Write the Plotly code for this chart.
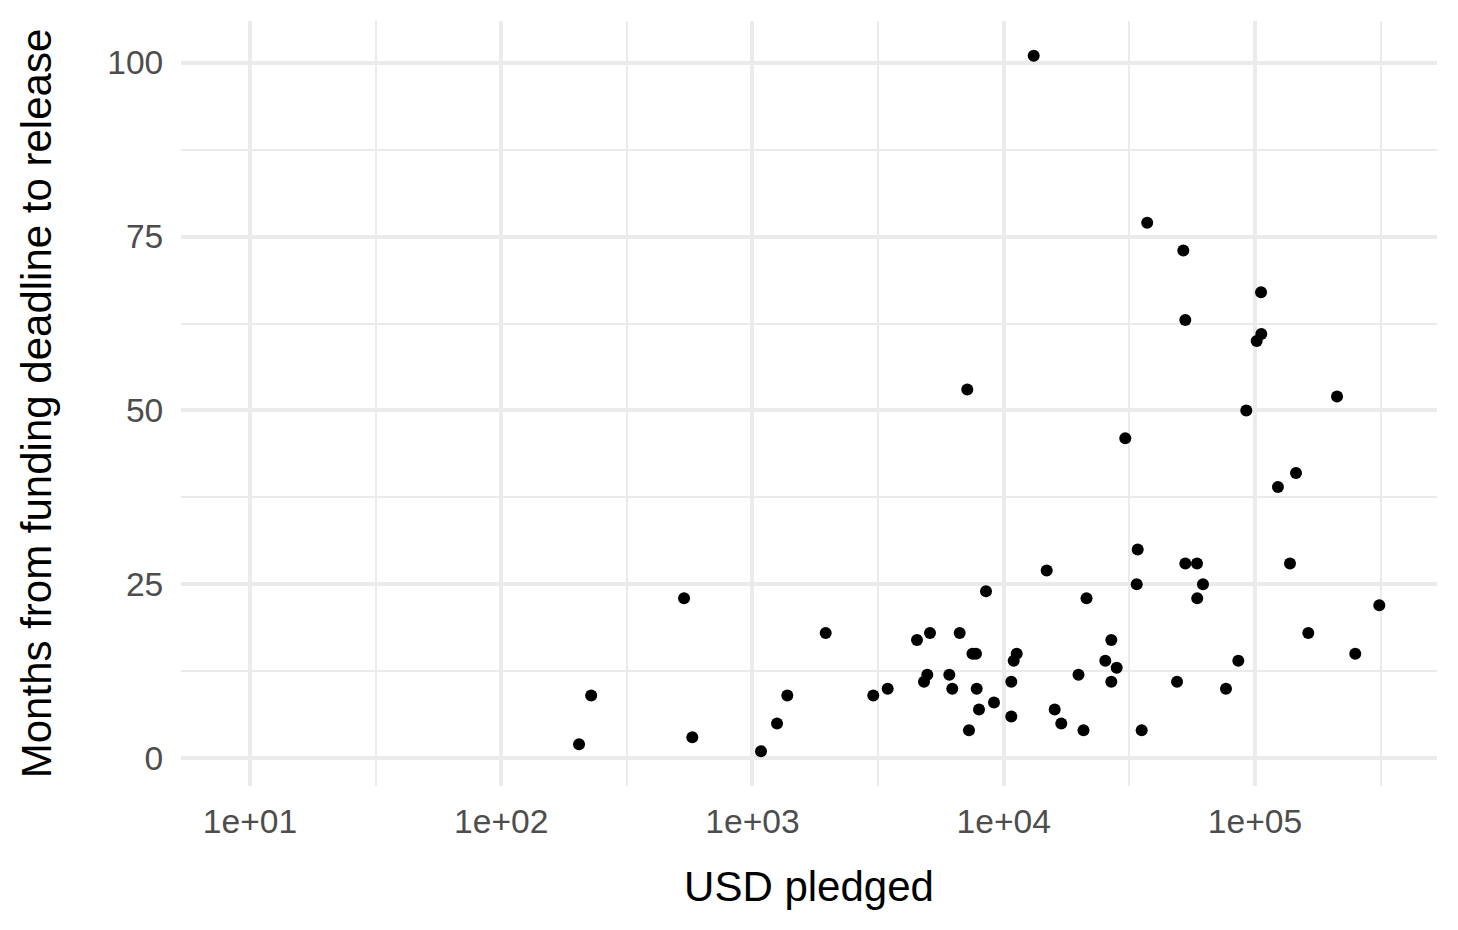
import plotly.graph_objects as go

usd_pledged = [204, 228, 534, 576, 1081, 1252, 1376, 1956, 3025, 3452,
               4515, 4815, 4963, 5087, 6072, 6240, 6678, 7159, 7272, 7509,
               7754, 7804, 7971, 8500, 9146, 10717, 10717, 10955, 11260, 13159,
               14826, 15952, 16943, 19838, 20768, 21351, 25364, 26799, 26799, 28154,
               30461, 33826, 34133, 35400, 37232, 48946, 51842, 52803, 52803, 58771,
               58900, 62086, 76657, 85824, 92344, 101577, 105946, 105700, 123423, 137830,
               145620, 162970, 212080, 250700, 312400]
months_to_release = [2, 9, 23, 3, 1, 5, 9, 18, 9, 10,
                     17, 11, 12, 18, 12, 10, 18, 53, 4, 15,
                     15, 10, 7, 24, 8, 11, 6, 14, 15, 101,
                     27, 7, 5, 12, 4, 23, 14, 17, 11, 13,
                     46, 25, 30, 4, 77, 11, 73, 63, 28, 28,
                     23, 25, 10, 14, 50, 60, 61, 67, 39, 28,
                     41, 18, 52, 15, 22]

x_tick_vals = [1e1, 1e2, 1e3, 1e4, 1e5]
x_tick_text = ["1e+01", "1e+02", "1e+03", "1e+04", "1e+05"]
x_minor_vals = [10 ** 1.5, 10 ** 2.5, 10 ** 3.5, 10 ** 4.5, 10 ** 5.5]
y_tick_vals = [0, 25, 50, 75, 100]
y_minor_vals = [12.5, 37.5, 62.5, 87.5]

FONT = "Liberation Sans"
GRID = "#EBEBEB"

fig = go.Figure()
fig.add_trace(go.Scatter(
    x=usd_pledged, y=months_to_release, mode="markers",
    marker=dict(color="black", size=12, line=dict(width=0)),
    showlegend=False, hoverinfo="x+y"))

fig.update_layout(
    width=1450, height=922,
    margin=dict(l=173, r=21, t=13, b=144),
    paper_bgcolor="white", plot_bgcolor="white",
    font=dict(family=FONT, color="black"),
    xaxis=dict(
        type="log", range=[0.7254, 5.7244],
        tickmode="array", tickvals=x_tick_vals, ticktext=x_tick_text,
        ticks="outside", ticklen=6, tickcolor="rgba(0,0,0,0)",
        tickfont=dict(family=FONT, size=33.6, color="#4D4D4D"),
        showgrid=True, gridcolor=GRID, gridwidth=4,
        minor=dict(tickmode="array", tickvals=x_minor_vals, showgrid=True,
                   gridcolor=GRID, gridwidth=2, ticks=""),
        zeroline=False, showline=False,
        title=dict(text="USD pledged", font=dict(family=FONT, size=42, color="black"),
                   standoff=32),
    ),
    yaxis=dict(
        range=[-4, 106],
        tickmode="array", tickvals=y_tick_vals,
        ticks="outside", ticklen=10, tickcolor="rgba(0,0,0,0)",
        tickfont=dict(family=FONT, size=33.6, color="#4D4D4D"),
        showgrid=True, gridcolor=GRID, gridwidth=4,
        minor=dict(tickmode="array", tickvals=y_minor_vals, showgrid=True,
                   gridcolor=GRID, gridwidth=2, ticks=""),
        zeroline=False, showline=False,
        title=dict(text="Months from funding deadline to release",
                   font=dict(family=FONT, size=42, color="black"), standoff=42),
    ),
)

fig.write_html("out.html")
